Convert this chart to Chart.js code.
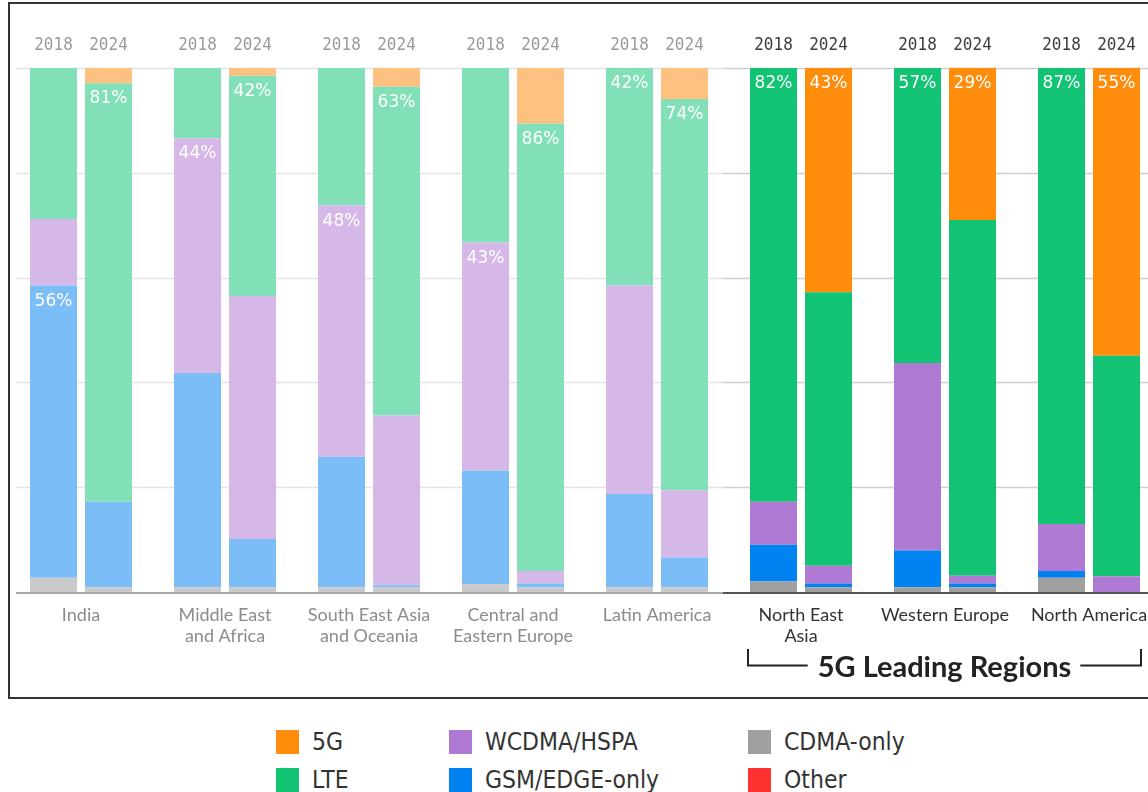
<!DOCTYPE html>
<html><head><meta charset="utf-8">
<script src="https://cdn.jsdelivr.net/npm/chart.js@4.4.1/dist/chart.umd.min.js"></script>
<style>
html,body{margin:0;padding:0;background:#fff;overflow:hidden;width:1148px;height:792px;}
#frame{position:absolute;left:8px;top:2px;width:1300px;height:697px;box-sizing:border-box;border:2px solid #333;}
#c{position:absolute;left:0;top:0;}
.li{position:absolute;font-family:'DejaVu Sans',sans-serif;font-size:22px;color:#333;white-space:nowrap;line-height:24px;transform:scale(1,1.12);transform-origin:left center;}
.sw{position:absolute;width:23px;height:24px;}
</style></head><body>
<div id="frame"></div>
<canvas id="c" width="1161" height="700"></canvas>
<div id="legend"></div>
<script>
// ---- data ----
const regions = [['India'], ['Middle East','and Africa'], ['South East Asia','and Oceania'], ['Central and','Eastern Europe'], ['Latin America'], ['North East','Asia'], ['Western Europe'], ['North America']];
const years = ['2018', '2024'];
const techs = ['CDMA-only', 'GSM/EDGE-only', 'WCDMA/HSPA', 'LTE', '5G', 'Other'];

const cdma2018  = [2.7, 0.9, 0.9, 1.5, 0.9, 2.0, 0.9, 2.7];
const gsm2018   = [55.8, 40.9, 24.9, 21.7, 17.8, 7.0, 7.0, 1.3];
const wcdma2018 = [12.7, 44.8, 48.0, 43.5, 39.8, 8.2, 35.8, 9.0];
const lte2018   = [28.8, 13.4, 26.2, 33.3, 41.5, 82.8, 56.3, 87.0];
const nr2018    = [0, 0, 0, 0, 0, 0, 0, 0];
const other2018 = [0, 0, 0, 0, 0, 0, 0, 0];

const cdma2024  = [0.9, 0.9, 0.9, 0.9, 0.9, 0.9, 0.9, 0];
const gsm2024   = [16.3, 9.2, 0.4, 0.7, 5.7, 0.7, 0.7, 0];
const wcdma2024 = [0, 46.4, 32.4, 2.4, 12.8, 3.4, 1.5, 3.0];
const lte2024   = [79.9, 42.0, 62.7, 85.4, 74.7, 52.2, 67.9, 42.1];
const nr2024    = [2.9, 1.5, 3.6, 10.6, 5.9, 42.8, 29.0, 54.9];
const other2024 = [0, 0, 0, 0, 0, 0, 0, 0];

// value labels shown on bars
const labelTech2018 = ['GSM/EDGE-only', 'WCDMA/HSPA', 'WCDMA/HSPA', 'WCDMA/HSPA', 'LTE', 'LTE', 'LTE', 'LTE'];
const labelText2018 = ['56%', '44%', '48%', '43%', '42%', '82%', '57%', '87%'];
const labelTech2024 = ['LTE', 'LTE', 'LTE', 'LTE', 'LTE', '5G', '5G', '5G'];
const labelText2024 = ['81%', '42%', '63%', '86%', '74%', '43%', '29%', '55%'];

const groupTitle = '5G Leading Regions';
const firstLeadingRegion = 5;

// ---- styles ----
const fullColors = {'CDMA-only':'#a0a0a0','GSM/EDGE-only':'#0082f0','WCDMA/HSPA':'#af7ad3','LTE':'#12c373','5G':'#ff8c0a','Other':'#ff3232'};
const fadedColors = {'CDMA-only':'#cacaca','GSM/EDGE-only':'#7bbdf7','WCDMA/HSPA':'#d5b8e8','LTE':'#82e0b8','5G':'#ffc17f','Other':'#ff9999'};

const series = {
  '2018': {'CDMA-only':cdma2018,'GSM/EDGE-only':gsm2018,'WCDMA/HSPA':wcdma2018,'LTE':lte2018,'5G':nr2018,'Other':other2018},
  '2024': {'CDMA-only':cdma2024,'GSM/EDGE-only':gsm2024,'WCDMA/HSPA':wcdma2024,'LTE':lte2024,'5G':nr2024,'Other':other2024}
};

const datasets = [];
years.forEach(y => {
  ['Other','CDMA-only','GSM/EDGE-only','WCDMA/HSPA','LTE','5G'].forEach(t => {
    datasets.push({
      label: t, tech: t, year: y, stack: y,
      data: series[y][t],
      backgroundColor: ctx => ctx.dataIndex < firstLeadingRegion ? fadedColors[t] : fullColors[t],
      borderWidth: 0,
      categoryPercentage: 110/144,
      barPercentage: 47/55
    });
  });
});

function dsIndex(year, tech) {
  return datasets.findIndex(d => d.year === year && d.tech === tech);
}

const overlay = {
  id: 'overlay',
  beforeDatasetsDraw(chart) {
    const ctx = chart.ctx, ys = chart.scales.y, ca = chart.chartArea;
    const split = 723;
    ctx.save();
    ctx.lineWidth = 1.5;
    [20, 40, 60, 80, 100].forEach(v => {
      const py = Math.round(ys.getPixelForValue(v)) + 0.5;
      ctx.strokeStyle = '#e4e4e4';
      ctx.beginPath(); ctx.moveTo(16, py); ctx.lineTo(split, py); ctx.stroke();
      ctx.strokeStyle = '#cfcfcf';
      ctx.beginPath(); ctx.moveTo(split, py); ctx.lineTo(ca.right, py); ctx.stroke();
    });
    ctx.restore();
  },
  afterDatasetsDraw(chart) {
    const ctx = chart.ctx, ys = chart.scales.y, ca = chart.chartArea;
    const split = 723;
    ctx.save();
    // baseline
    const py = ys.getPixelForValue(0) + 1;
    ctx.lineWidth = 2;
    ctx.strokeStyle = '#a8a8a8';
    ctx.beginPath(); ctx.moveTo(16, py); ctx.lineTo(split, py); ctx.stroke();
    ctx.strokeStyle = '#555';
    ctx.beginPath(); ctx.moveTo(split, py); ctx.lineTo(ca.right, py); ctx.stroke();

    // year labels (slightly tall glyphs)
    ctx.font = '16px "DejaVu Sans Mono", monospace';
    ctx.textAlign = 'center';
    ctx.textBaseline = 'middle';
    years.forEach(y => {
      const meta = chart.getDatasetMeta(dsIndex(y, 'LTE'));
      meta.data.forEach((el, i) => {
        ctx.save();
        ctx.translate(el.x, 45);
        ctx.scale(1, 1.13);
        ctx.fillStyle = i < firstLeadingRegion ? '#9a9a9a' : '#3c3c3c';
        ctx.fillText(y, 0, 0);
        ctx.restore();
      });
    });

    // value labels
    ctx.font = '17px "DejaVu Sans", sans-serif';
    ctx.fillStyle = '#ffffff';
    const lab = [[ '2018', labelTech2018, labelText2018 ], [ '2024', labelTech2024, labelText2024 ]];
    lab.forEach(([y, tl, tx]) => {
      tl.forEach((t, i) => {
        const el = chart.getDatasetMeta(dsIndex(y, t)).data[i];
        ctx.save();
        ctx.translate(el.x, el.y + 15.5);
        ctx.scale(1, 1.08);
        ctx.fillText(tx[i], 0, 0);
        ctx.restore();
      });
    });

    // bracket for leading regions
    const first = chart.getDatasetMeta(dsIndex('2018', 'LTE')).data[firstLeadingRegion];
    const last = chart.getDatasetMeta(dsIndex('2024', 'LTE')).data[regions.length - 1];
    const x0 = first.x - first.width / 2 - 2;
    const x1 = last.x + last.width / 2 + 1;
    const cx = (x0 + x1) / 2;
    ctx.font = 'bold 29px Lato, sans-serif';
    const w = ctx.measureText(groupTitle).width;
    ctx.fillStyle = '#222';
    ctx.fillText(groupTitle, cx, 668);
    ctx.strokeStyle = '#222';
    ctx.lineWidth = 2;
    ctx.beginPath();
    ctx.moveTo(x0, 649); ctx.lineTo(x0, 665.5); ctx.lineTo(cx - w / 2 - 10, 665.5);
    ctx.moveTo(cx + w / 2 + 9, 665.5); ctx.lineTo(x1, 665.5); ctx.lineTo(x1, 649);
    ctx.stroke();
    ctx.restore();
  }
};

new Chart(document.getElementById('c'), {
  type: 'bar',
  data: { labels: regions, datasets },
  options: {
    responsive: false,
    animation: false,
    layout: { padding: { left: 9, right: 0, top: 68, bottom: 0 } },
    plugins: { legend: { display: false }, tooltip: { enabled: false } },
    scales: {
      x: {
        stacked: true,
        grid: { display: false, drawTicks: false },
        border: { display: false },
        afterFit: s => { s.height = 108; },
        ticks: {
          padding: 13,
          maxRotation: 0,
          autoSkip: false,
          font: { family: 'Lato, sans-serif', size: 18, lineHeight: 1.17 },
          color: ctx => ctx.index < firstLeadingRegion ? '#8c8c8c' : '#333333'
        }
      },
      y: {
        stacked: true, min: 0, max: 100, display: false
      }
    }
  },
  plugins: [overlay]
});

// ---- HTML legend (3 columns x 2 rows) ----
const legendCols = [['5G', 'LTE'], ['WCDMA/HSPA', 'GSM/EDGE-only'], ['CDMA-only', 'Other']];
const colX = [276, 449, 748];
const rowY = [730, 768];
const lg = document.getElementById('legend');
legendCols.forEach((col, ci) => {
  col.forEach((t, ri) => {
    const sw = document.createElement('div');
    sw.className = 'sw';
    sw.style.left = colX[ci] + 'px';
    sw.style.top = rowY[ri] + 'px';
    sw.style.background = fullColors[t];
    lg.appendChild(sw);
    const tx = document.createElement('div');
    tx.className = 'li';
    tx.style.left = (colX[ci] + 36) + 'px';
    tx.style.top = rowY[ri] + 'px';
    tx.textContent = t;
    lg.appendChild(tx);
  });
});
</script>
</body></html>
